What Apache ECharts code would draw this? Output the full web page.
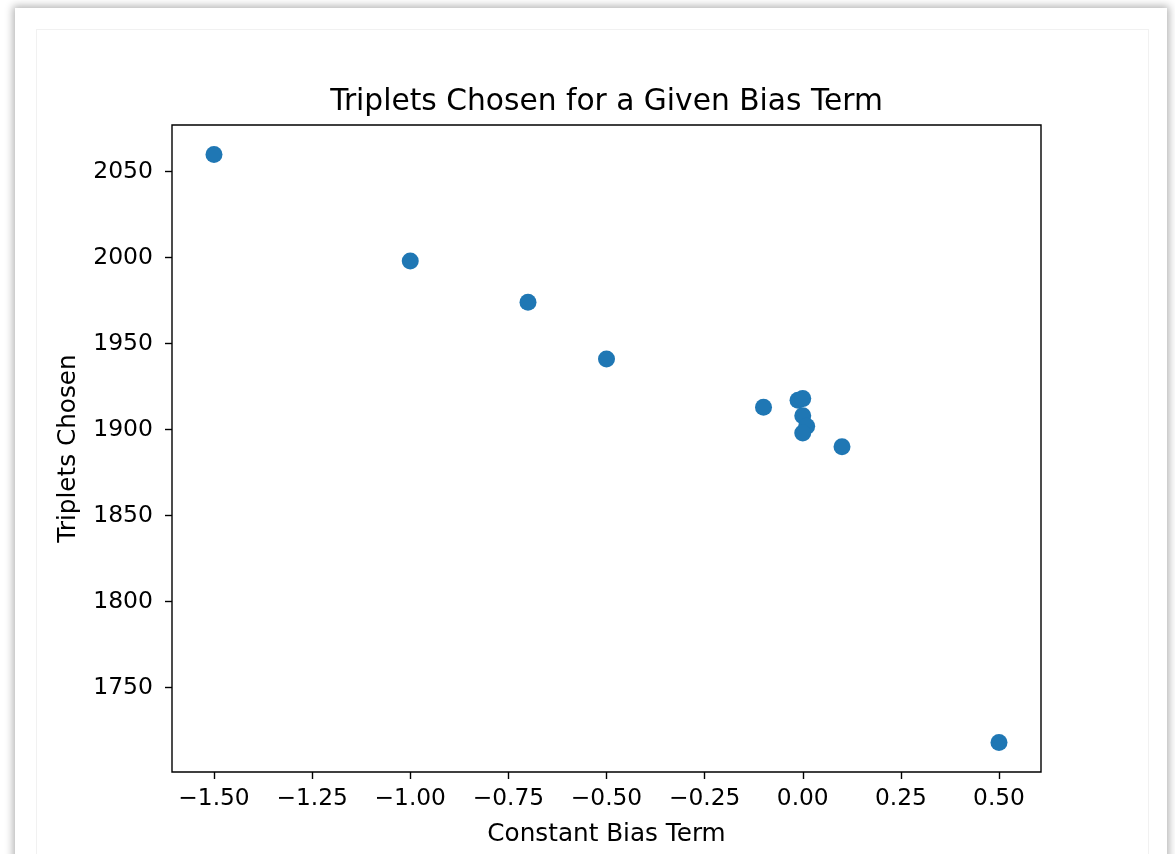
<!DOCTYPE html>
<html>
<head>
<meta charset="utf-8">
<script src="https://cdn.jsdelivr.net/npm/echarts@6/dist/echarts.min.js"></script>
<style>
  html, body { margin: 0; padding: 0; background: #ffffff; overflow: hidden; }
  body { width: 1175px; height: 854px; position: relative; }
  .card {
    position: absolute; left: 15px; top: 8px; width: 1152px; height: 900px;
    background: #ffffff;
    box-shadow: 0 0 8px 2px rgba(0, 0, 0, 0.3);
  }
  .inner {
    position: absolute; left: 36px; top: 29px; width: 1111px; height: 900px;
    border: 1px solid #f1f1f1; background: #ffffff;
  }
  #chart { position: absolute; left: 0; top: 0; width: 1175px; height: 854px; }
</style>
</head>
<body>
<div class="card"></div>
<div class="inner"></div>
<div id="chart"></div>
<script>
// Bias term values and the number of triplets chosen for each
const biasTerms = [-1.5, -1.0, -0.7, -0.5, -0.1, -0.012, 0.0, 0.0, 0.01, 0.0, 0.1, 0.5];
const tripletsChosen = [2060, 1998, 1974, 1941, 1913, 1917, 1918, 1908, 1902, 1898, 1890, 1718];

// Axis ticks and their labels
const xTicks = [-1.5, -1.25, -1.0, -0.75, -0.5, -0.25, 0.0, 0.25, 0.5];
const xTickLabels = ['\u22121.50', '\u22121.25', '\u22121.00', '\u22120.75', '\u22120.50', '\u22120.25', '0.00', '0.25', '0.50'];
const yTicks = [1750, 1800, 1850, 1900, 1950, 2000, 2050];
const yTickLabels = ['1750', '1800', '1850', '1900', '1950', '2000', '2050'];

const points = biasTerms.map((b, i) => [b, tripletsChosen[i]]);
const FONT = 'DejaVu Sans';

const chart = echarts.init(document.getElementById('chart'), null, { renderer: 'canvas' });
chart.setOption({
  backgroundColor: 'transparent',
  animation: false,
  title: {
    text: 'Triplets Chosen for a Given Bias Term',
    left: 601.5, textAlign: 'center', top: 82,
    textStyle: { fontFamily: FONT, fontSize: 29.7, fontWeight: 'normal', color: '#000' }
  },
  grid: {
    left: 172, top: 125, width: 869, height: 647,
    show: true, borderColor: '#000', borderWidth: 1.4, backgroundColor: 'transparent'
  },
  xAxis: {
    type: 'value', min: -1.607, max: 0.607,
    name: 'Constant Bias Term', nameLocation: 'middle', nameGap: 50,
    nameTextStyle: { fontFamily: FONT, fontSize: 24.7, color: '#000' },
    axisLine: { show: false, onZero: false },
    splitLine: { show: false },
    axisTick: { show: true, inside: false, length: 7, customValues: xTicks,
      lineStyle: { color: '#000', width: 1.4 } },
    axisLabel: {
      customValues: xTicks, margin: 15,
      fontFamily: FONT, fontSize: 23.3, color: '#000',
      formatter: v => { const i = xTicks.findIndex(t => Math.abs(t - v) < 1e-9); return i >= 0 ? xTickLabels[i] : ''; }
    }
  },
  yAxis: {
    type: 'value', min: 1700.9, max: 2077.1,
    name: 'Triplets Chosen', nameLocation: 'middle', nameGap: 91, nameRotate: 90,
    nameTextStyle: { fontFamily: FONT, fontSize: 24.7, color: '#000' },
    axisLine: { show: false, onZero: false },
    splitLine: { show: false },
    axisTick: { show: true, inside: false, length: 7, customValues: yTicks,
      lineStyle: { color: '#000', width: 1.4 } },
    axisLabel: {
      customValues: yTicks, margin: 19,
      fontFamily: FONT, fontSize: 23.5, color: '#000',
      formatter: v => { const i = yTicks.indexOf(v); return i >= 0 ? yTickLabels[i] : ''; }
    }
  },
  series: [{
    type: 'scatter',
    data: points,
    symbol: 'circle',
    symbolSize: 17,
    itemStyle: { color: '#1f77b4', opacity: 1 }
  }]
});
</script>
</body>
</html>
